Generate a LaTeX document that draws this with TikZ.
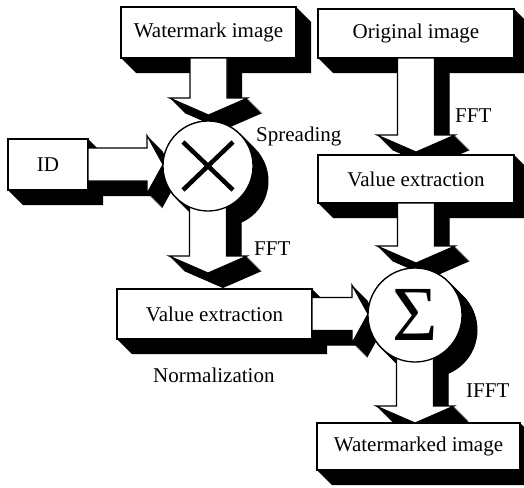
\documentclass[tikz,border=0pt]{standalone}
\usepackage{fontspec}
\setmainfont{Liberation Serif}
\usetikzlibrary{calc}
\pgfdeclarelayer{shadow}
\pgfdeclarelayer{front}
\pgfsetlayers{shadow,main,front}

\newcommand\labelfont{\fontsize{21}{25}\selectfont}

\tikzset{
  box/.style={draw, line width=1.3pt, fill=white, inner sep=0pt, outer sep=0pt, font=\labelfont},
  disc/.style={circle, draw, line width=1.3pt, fill=white, inner sep=0pt, outer sep=0pt},
  face/.style={draw, line width=1.1pt, fill=white, line join=miter},
  shade/.style={fill=black},
  lbl/.style={font=\labelfont, inner sep=0pt, anchor=base west},
}

% Vertical block arrow: #1 style, #2 start anchor, #3 target anchor,
% #4 gap before the target (pt), #5 extrusion offset (pt)
\newcommand\vblock[5]{%
  \path[#1] let \p1=(#2), \p2=(#3) in
    (\x1-18.5pt+#5pt,\y1-#5pt) -- (\x1+18.5pt+#5pt,\y1-#5pt)
    -- (\x1+18.5pt+#5pt,\y2+#4pt+17pt-#5pt) -- (\x1+39pt+#5pt,\y2+#4pt+17pt-#5pt)
    -- (\x1+#5pt,\y2+#4pt-#5pt)
    -- (\x1-39pt+#5pt,\y2+#4pt+17pt-#5pt) -- (\x1-18.5pt+#5pt,\y2+#4pt+17pt-#5pt)
    -- cycle;}
% Horizontal block arrow, same arguments
\newcommand\hblock[5]{%
  \path[#1] let \p1=(#2), \p2=(#3) in
    (\x1+#5pt,\y1+16.5pt-#5pt) -- (\x2-#4pt-16pt+#5pt,\y1+16.5pt-#5pt)
    -- (\x2-#4pt-16pt+#5pt,\y1+29pt-#5pt) -- (\x2-#4pt+#5pt,\y1-#5pt)
    -- (\x2-#4pt-16pt+#5pt,\y1-29pt-#5pt) -- (\x2-#4pt-16pt+#5pt,\y1-16.5pt-#5pt)
    -- (\x1+#5pt,\y1-16.5pt-#5pt) -- cycle;}

\begin{document}
\begin{tikzpicture}[x=1pt,y=-1pt]
\useasboundingbox (0,0) rectangle (524,487);

% processing boxes
\node[box, minimum width=175pt, minimum height=51pt] (wm)   at (208.5,32.5) {Watermark image};
\node[box, minimum width=196pt, minimum height=49pt] (orig) at (416,33.5)   {Original image};
\node[box, minimum width=80pt,  minimum height=51pt] (id)   at (48,164.5)   {ID};
\node[box, minimum width=196pt, minimum height=48pt] (ve2)  at (416,179)    {Value extraction};
\node[box, minimum width=195pt, minimum height=50pt] (ve1)  at (214.5,314)  {Value extraction};
\node[box, minimum width=203pt, minimum height=47pt] (wmd)  at (418.5,446.5){Watermarked image};

% operators
\begin{pgfonlayer}{front}
  \node[disc, minimum size=90pt] (mul) at (208,166) {};
  \draw[line width=4.5pt] ($(mul.center)+(-25,-24)$) -- ($(mul.center)+(25,24)$);
  \draw[line width=4.5pt] ($(mul.center)+(-25,24)$) -- ($(mul.center)+(25,-24)$);
  \node[disc, minimum size=94pt, font=\fontsize{78}{78}\selectfont] (sum) at (415,315) {Σ};

  \node[lbl] (spread) at (256,141) {Spreading};
  \node[lbl] (fft1)   at (455,122) {FFT};
  \node[lbl] (fft2)   at (254,255) {FFT};
  \node[lbl] (norm)   at (153,382) {Normalization};
  \node[lbl] (ifft)   at (466,397) {IFFT};
\end{pgfonlayer}

% extruded black sides
\begin{pgfonlayer}{shadow}
  \foreach \n in {wm,orig,id,ve2,ve1,wmd}
    \fill (\n.north west) -- (\n.north east) -- ($(\n.north east)+(15,15)$)
      -- ($(\n.south east)+(15,15)$) -- ($(\n.south west)+(15,15)$) -- (\n.south west) -- cycle;
  \foreach \k in {0,0.5,...,15} {
    \fill ($(mul.center)+(\k,\k)$) circle[radius=45.5pt];
    \fill ($(sum.center)+(\k,\k)$) circle[radius=47.5pt];
    \vblock{shade}{wm.south}{mul.north}{6}{\k}
    \vblock{shade}{orig.south}{ve2.north}{3}{\k}
    \vblock{shade}{mul.center}{ve1.north}{16}{\k}
    \vblock{shade}{ve2.south}{sum.north}{5}{\k}
    \vblock{shade}{sum.center}{wmd.north}{0}{\k}
    \hblock{shade}{id.east}{mul.west}{0}{\k}
    \hblock{shade}{ve1.east}{sum.west}{0}{\k}
  }
\end{pgfonlayer}

% block arrows
\vblock{face}{wm.south}{mul.north}{6}{0}
\vblock{face}{orig.south}{ve2.north}{3}{0}
\vblock{face}{mul.center}{ve1.north}{16}{0}
\vblock{face}{ve2.south}{sum.north}{5}{0}
\vblock{face}{sum.center}{wmd.north}{0}{0}
\hblock{face}{id.east}{mul.west}{0}{0}
\hblock{face}{ve1.east}{sum.west}{0}{0}
\end{tikzpicture}
\end{document}
